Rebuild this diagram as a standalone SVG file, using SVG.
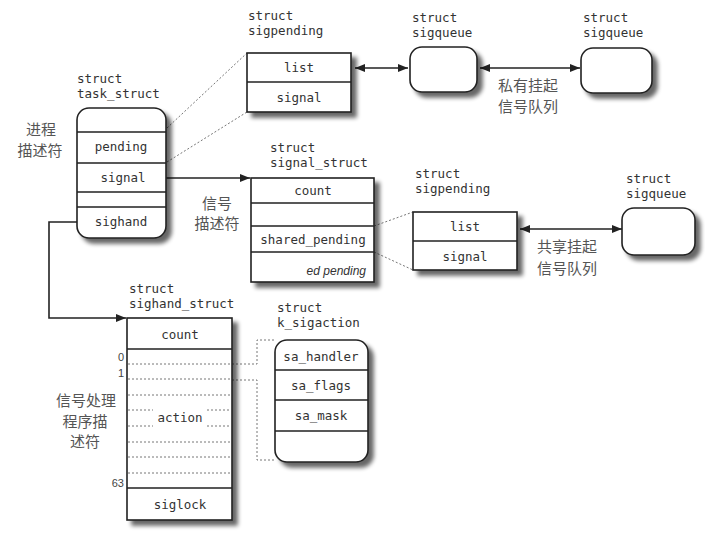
<svg xmlns="http://www.w3.org/2000/svg" width="705" height="534" viewBox="0 0 705 534">
<defs>
<filter id="sh" x="-20%" y="-20%" width="150%" height="150%">
<feGaussianBlur in="SourceAlpha" stdDeviation="2"/>
<feOffset dx="5" dy="5"/>
<feComponentTransfer><feFuncA type="linear" slope="0.6"/></feComponentTransfer>
<feMerge><feMergeNode/><feMergeNode in="SourceGraphic"/></feMerge>
</filter>
<marker id="ah" viewBox="0 0 10 10" refX="10" refY="5" markerWidth="10" markerHeight="10" markerUnits="userSpaceOnUse" orient="auto-start-reverse">
<path d="M0,1 L10,5 L0,9 Z" fill="#222"/>
</marker>
</defs>
<style>
.box{fill:#fff;stroke:#222;stroke-width:1.6;filter:url(#sh)}
.div{stroke:#222;stroke-width:1.4;fill:none}
.t{font-family:"DejaVu Sans Mono","Liberation Mono",monospace;font-size:12.5px;fill:#333}
.c{text-anchor:middle}
.cn{font-family:"Noto Sans CJK SC",sans-serif;font-size:15px;fill:#555;text-anchor:middle}
.num{font-family:"Liberation Sans Narrow","Liberation Sans",sans-serif;font-size:11px;fill:#444;text-anchor:end}
.it{font-family:"Liberation Sans",sans-serif;font-style:italic;font-size:12px;fill:#333;text-anchor:end}
.dot{stroke:#777;stroke-width:1;stroke-dasharray:2 2;fill:none}
.con{stroke:#222;stroke-width:1.6;fill:none}
</style>
<rect width="705" height="534" fill="#fff"/>

<g id="connectors">
<line class="dot" x1="167" y1="128" x2="247" y2="53"/>
<line class="dot" x1="167" y1="162" x2="247" y2="112"/>
<line class="dot" x1="374" y1="226" x2="413" y2="212"/>
<line class="dot" x1="374" y1="252" x2="413" y2="270"/>
<polyline class="dot" points="232,364 257,364 257,340 275,340"/>
<polyline class="dot" points="232,380 257,380 257,460 275,460"/>
<line class="con" x1="355" y1="68" x2="408" y2="68" marker-start="url(#ah)" marker-end="url(#ah)"/>
<line class="con" x1="480" y1="68" x2="580" y2="68" marker-start="url(#ah)" marker-end="url(#ah)"/>
<line class="con" x1="157" y1="178" x2="250" y2="178" marker-end="url(#ah)"/>
<line class="con" x1="520" y1="229" x2="622" y2="229" marker-start="url(#ah)" marker-end="url(#ah)"/>
<polyline class="con" points="78,222 49,222 49,318 126,318" marker-end="url(#ah)"/>
</g>

<g id="task_struct">
<text class="t" x="77" y="83">struct</text>
<text class="t" x="77" y="98">task_struct</text>
<rect class="box" x="77" y="108" width="89" height="130" rx="12"/>
<path class="div" d="M77,132H166M77,163H166M77,192H166M77,207H166"/>
<text class="t c" x="121" y="151">pending</text>
<text class="t c" x="123" y="182">signal</text>
<text class="t c" x="121" y="226">sighand</text>
<text class="cn" x="41" y="135">进程</text>
<text class="cn" x="40" y="156">描述符</text>
</g>

<g id="sigpending1">
<text class="t" x="248" y="20">struct</text>
<text class="t" x="248" y="35">sigpending</text>
<rect class="box" x="247" y="53" width="104" height="59"/>
<path class="div" d="M247,82H351"/>
<text class="t c" x="299" y="72">list</text>
<text class="t c" x="299" y="102">signal</text>
</g>

<g id="sigqueue1">
<text class="t" x="412" y="22">struct</text>
<text class="t" x="412" y="37">sigqueue</text>
<rect class="box" x="410" y="47" width="67" height="45" rx="12"/>
</g>

<g id="sigqueue2">
<text class="t" x="583" y="22">struct</text>
<text class="t" x="583" y="37">sigqueue</text>
<rect class="box" x="581" y="48" width="71" height="45" rx="12"/>
<text class="cn" x="528" y="91">私有挂起</text>
<text class="cn" x="528" y="112">信号队列</text>
</g>

<g id="signal_struct">
<text class="t" x="270" y="152">struct</text>
<text class="t" x="270" y="167">signal_struct</text>
<rect class="box" x="251" y="178" width="123" height="104"/>
<path class="div" d="M251,203H374M251,226H374M251,252H374"/>
<text class="t c" x="313" y="195">count</text>
<text class="t c" x="313" y="244">shared_pending</text>
<text class="it" x="366" y="275">ed pending</text>
<text class="cn" x="217" y="209">信号</text>
<text class="cn" x="217" y="229">描述符</text>
</g>

<g id="sigpending2">
<text class="t" x="415" y="178">struct</text>
<text class="t" x="415" y="193">sigpending</text>
<rect class="box" x="413" y="212" width="104" height="58"/>
<path class="div" d="M413,241H517"/>
<text class="t c" x="465" y="231">list</text>
<text class="t c" x="465" y="261">signal</text>
<text class="cn" x="567" y="252">共享挂起</text>
<text class="cn" x="567" y="274">信号队列</text>
</g>

<g id="sigqueue3">
<text class="t" x="626" y="183">struct</text>
<text class="t" x="626" y="198">sigqueue</text>
<rect class="box" x="622" y="208" width="73" height="47" rx="12"/>
</g>

<g id="sighand_struct">
<text class="t" x="129" y="293">struct</text>
<text class="t" x="129" y="308">sighand_struct</text>
<rect class="box" x="127" y="318" width="105" height="202"/>
<path class="div" d="M127,349H232M127,488H232"/>
<path class="dot" d="M128,364H231M128,379H231M128,395H231M128,410H153M207,410H231M128,426H153M207,426H231M128,442H231M128,457H231M128,473H231"/>
<text class="t c" x="180" y="339">count</text>
<text class="t c" x="180" y="422">action</text>
<text class="t c" x="180" y="509">siglock</text>
<text class="num" x="124" y="361">0</text>
<text class="num" x="124" y="377">1</text>
<text class="num" x="124" y="487">63</text>
<text class="cn" x="86" y="406">信号处理</text>
<text class="cn" x="85" y="427">程序描</text>
<text class="cn" x="85" y="447">述符</text>
</g>

<g id="k_sigaction">
<text class="t" x="277" y="312">struct</text>
<text class="t" x="277" y="327">k_sigaction</text>
<rect class="box" x="275" y="340" width="93" height="122" rx="12"/>
<path class="div" d="M275,370H368M275,400H368M275,431H368"/>
<text class="t c" x="321" y="361">sa_handler</text>
<text class="t c" x="321" y="390">sa_flags</text>
<text class="t c" x="321" y="420">sa_mask</text>
</g>
</svg>
